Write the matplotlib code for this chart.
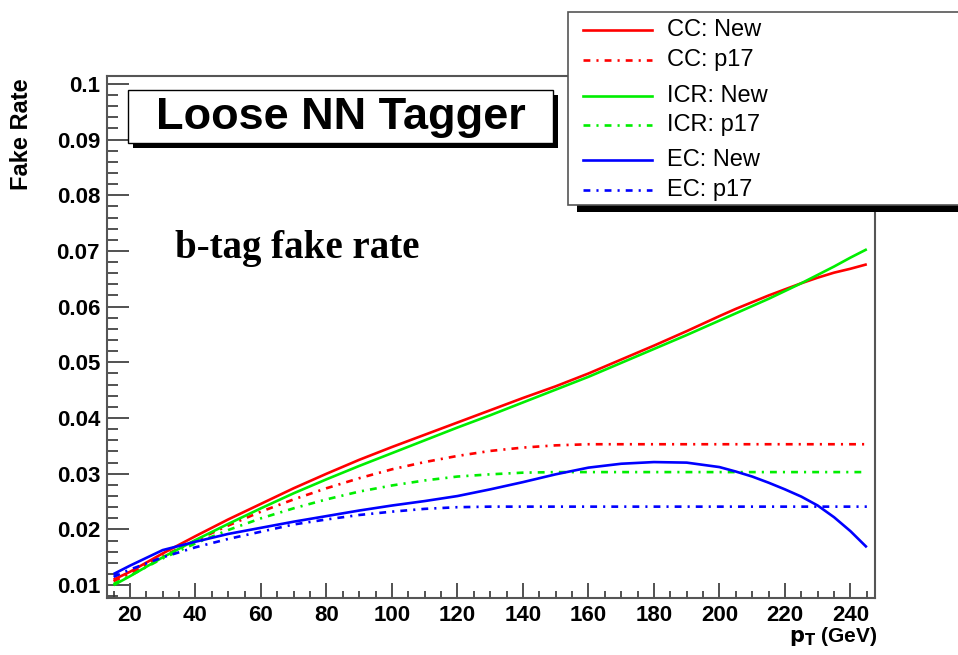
import matplotlib
matplotlib.use("Agg")
import matplotlib.pyplot as plt
from matplotlib.patches import Rectangle
from matplotlib.lines import Line2D
from matplotlib.ticker import MultipleLocator, FuncFormatter

# ---------------- data ----------------
pt = [15, 20, 30, 40, 50, 60, 70, 80, 90, 100, 110, 120, 130, 140, 150,
      160, 170, 180, 190, 200, 205, 210, 215, 220, 225, 230, 235, 240, 245]

cc_new = [0.0110, 0.0124, 0.0157, 0.0188, 0.0218, 0.0246, 0.0274, 0.0300, 0.0325,
          0.0348, 0.0370, 0.0392, 0.0414, 0.0436, 0.0457, 0.0480, 0.0505, 0.0530,
          0.0556, 0.0583, 0.0596, 0.0608, 0.0620, 0.0631, 0.0642, 0.0652, 0.0661,
          0.0668, 0.0676]
cc_p17 = [0.0107, 0.0121, 0.0152, 0.0180, 0.0207, 0.0232, 0.0254, 0.0274, 0.0292,
          0.0308, 0.0321, 0.0332, 0.0341, 0.0347, 0.0351, 0.0353, 0.0353, 0.0353,
          0.0353, 0.0353, 0.0353, 0.0353, 0.0353, 0.0353, 0.0353, 0.0353, 0.0353,
          0.0353, 0.0353]
icr_new = [0.0100, 0.0116, 0.0150, 0.0181, 0.0210, 0.0238, 0.0265, 0.0290, 0.0314,
           0.0337, 0.0360, 0.0383, 0.0405, 0.0428, 0.0451, 0.0474, 0.0499, 0.0524,
           0.0549, 0.0575, 0.0588, 0.0601, 0.0614, 0.0628, 0.0642, 0.0657, 0.0672,
           0.0688, 0.0703]
icr_p17 = [0.0102, 0.0117, 0.0148, 0.0175, 0.0199, 0.0220, 0.0238, 0.0254, 0.0268,
           0.0279, 0.0288, 0.0295, 0.0299, 0.0302, 0.0303, 0.0303, 0.0303, 0.0303,
           0.0303, 0.0303, 0.0303, 0.0303, 0.0303, 0.0303, 0.0303, 0.0303, 0.0303,
           0.0303, 0.0303]
ec_new = [0.0120, 0.0135, 0.0163, 0.0178, 0.0192, 0.0203, 0.0214, 0.0224, 0.0234,
          0.0243, 0.0251, 0.0260, 0.0272, 0.0285, 0.0299, 0.0311, 0.0318, 0.0321,
          0.0320, 0.0312, 0.0304, 0.0295, 0.0284, 0.0272, 0.0259, 0.0243, 0.0222,
          0.0197, 0.0168]
ec_p17 = [0.0115, 0.0128, 0.0150, 0.0168, 0.0183, 0.0196, 0.0209, 0.0218, 0.0226,
          0.0232, 0.0237, 0.0240, 0.0241, 0.0241, 0.0241, 0.0241, 0.0241, 0.0241,
          0.0241, 0.0241, 0.0241, 0.0241, 0.0241, 0.0241, 0.0241, 0.0241, 0.0241,
          0.0241, 0.0241]

labels = ["CC: New", "CC: p17", "ICR: New", "ICR: p17", "EC: New", "EC: p17"]
series = [cc_new, cc_p17, icr_new, icr_p17, ec_new, ec_p17]
colors = ["#ff0000", "#ff0000", "#00ee00", "#00ee00", "#0000ff", "#0000ff"]
styles = ["solid", "dashdot", "solid", "dashdot", "solid", "dashdot"]

xticks = [20, 40, 60, 80, 100, 120, 140, 160, 180, 200, 220, 240]

title_text = "Loose NN Tagger"
note_text = "b-tag fake rate"
xlabel = r"$\mathbf{p_{T}}$ (GeV)"
ylabel = "Fake Rate"

# ---------------- figure ----------------
W, H = 958, 655
fig = plt.figure(figsize=(W / 100, H / 100), dpi=100)
fig.patch.set_facecolor("white")

def fx(px):
    return px / W

def fy(py):
    return 1 - py / H

SANS = ["Liberation Sans", "DejaVu Sans"]

ax = fig.add_axes([fx(107), fy(598), fx(875) - fx(107), fy(76) - fy(598)])

dash = (0, (2.6, 2.3, 0.8, 2.3))
lines = []
for vals, c, s, lab in zip(series, colors, styles, labels):
    ls = "-" if s == "solid" else dash
    ln, = ax.plot(pt, vals, color=c, lw=1.9, linestyle=ls, label=lab,
                  solid_capstyle="butt", dash_capstyle="butt")
    lines.append((ln, ls))

ax.set_xlim(13, 247.5)
ax.set_ylim(0.0077, 0.1014)

ax.xaxis.set_minor_locator(MultipleLocator(5))
ax.set_xticks(xticks)
ax.yaxis.set_major_locator(MultipleLocator(0.01))
ax.yaxis.set_minor_locator(MultipleLocator(0.002))
ax.yaxis.set_major_formatter(FuncFormatter(lambda v, p: ("%.2f" % v).rstrip("0")))

ax.tick_params(axis="both", which="both", direction="in", top=False, right=False,
               color="#333333", width=1.2)
ax.tick_params(axis="y", which="major", length=16, pad=5)
ax.tick_params(axis="y", which="minor", length=8)
ax.tick_params(axis="x", which="major", length=11, pad=5)
ax.tick_params(axis="x", which="minor", length=5)
for lbl in ax.get_xticklabels() + ax.get_yticklabels():
    lbl.set_fontfamily(SANS)
    lbl.set_fontweight("bold")
    lbl.set_fontsize(16)

for sp in ax.spines.values():
    sp.set_color("#555555")
    sp.set_linewidth(1.5)

# axis titles (ROOT-style placement)
fig.text(fx(877), fy(636), xlabel, ha="right", va="center",
         fontsize=15, fontweight="bold", family=SANS)
fig.text(fx(22), fy(78), ylabel, ha="center", va="top", rotation=90,
         fontsize=17, fontweight="bold", family=SANS)

# title box with shadow
bx0, bx1, by0, by1 = 128, 553, 90, 143
fig.patches.append(Rectangle((fx(bx0 + 5), fy(by1 + 5)), fx(bx1) - fx(bx0), fy(by0) - fy(by1),
                             transform=fig.transFigure, facecolor="black",
                             edgecolor="none", zorder=5))
fig.patches.append(Rectangle((fx(bx0), fy(by1)), fx(bx1) - fx(bx0), fy(by0) - fy(by1),
                             transform=fig.transFigure, facecolor="white",
                             edgecolor="black", lw=1, zorder=6))
fig.text(fx((bx0 + bx1) / 2), fy((by0 + by1) / 2 + 1), title_text, ha="center", va="center",
         fontsize=32.5, fontweight="bold", family=SANS, zorder=7)

# annotation
fig.text(fx(175), fy(248), note_text, ha="left", va="center", fontsize=28,
         fontweight="bold", family=["Liberation Serif", "DejaVu Serif"])

# legend box with shadow (extends beyond the right edge, as in the reference)
lx0, lx1, ly0, ly1 = 568, 990, 12, 205
fig.patches.append(Rectangle((fx(lx0 + 9), fy(ly1 + 7)), fx(lx1) - fx(lx0), fy(ly0) - fy(ly1),
                             transform=fig.transFigure, facecolor="black",
                             edgecolor="none", zorder=5))
fig.patches.append(Rectangle((fx(lx0), fy(ly1)), fx(lx1) - fx(lx0), fy(ly0) - fy(ly1),
                             transform=fig.transFigure, facecolor="white",
                             edgecolor="#555555", lw=1.2, zorder=6))
rows = [30, 60, 96, 125, 160, 190]
for (ln, ls), row in zip(lines, rows):
    fig.lines.append(Line2D([fx(583), fx(652)], [fy(row), fy(row)], transform=fig.transFigure,
                            color=ln.get_color(), lw=ln.get_linewidth(),
                            linestyle=ls, dash_capstyle="butt", zorder=7))
    fig.text(fx(667), fy(row), ln.get_label(), ha="left", va="center", fontsize=17,
             family=SANS, zorder=7)

fig.savefig("out.png", dpi=100)
